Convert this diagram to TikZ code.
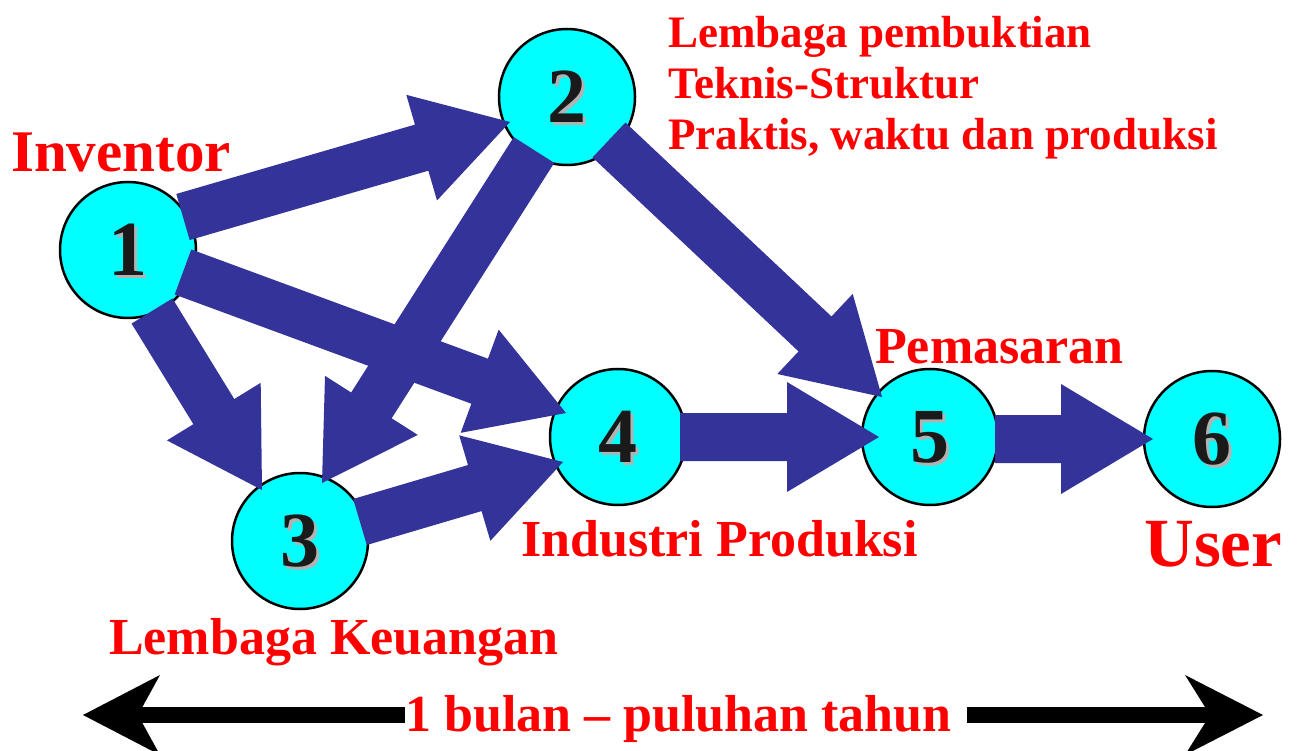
\documentclass[tikz,border=0pt]{standalone}
\usepackage{fontspec}
\setmainfont{Liberation Serif}
\usetikzlibrary{calc}
\definecolor{arrowblue}{RGB}{51,51,153}
\definecolor{nodecyan}{RGB}{0,255,255}
\definecolor{labelred}{RGB}{255,0,0}
\definecolor{numdark}{RGB}{26,26,26}
\definecolor{numshade}{RGB}{178,178,178}
\newcommand\shdigit[1]{\makebox[0pt][l]{\hspace*{3pt}\smash{\raisebox{-3pt}{\textcolor{numshade}{#1}}}}\textcolor{numdark}{#1}}
\newcommand\blockarrow[2]{%
  \coordinate (bab) at ($(#2)!92pt!(#1)$);
  \fill[arrowblue] ($(#1)!24pt!90:(#2)$) -- ($(bab)!24pt!90:(#2)$) -- ($(bab)!55pt!90:(#2)$) -- (#2)
    -- ($(bab)!55pt!-90:(#2)$) -- ($(bab)!24pt!-90:(#2)$) -- ($(#1)!24pt!-90:(#2)$) -- cycle;
}
\tikzset{
  numcircle/.style={circle, draw=black, line width=2.5pt, fill=nodecyan, minimum size=136pt, inner sep=0pt,
    font=\fontsize{78}{80}\selectfont\bfseries},
  redlabel/.style={text=labelred, inner sep=0pt, anchor=base west, font=\fontsize{#1}{#1}\selectfont\bfseries},
}
\begin{document}
\begin{tikzpicture}[x=1pt,y=-1pt]
\useasboundingbox[fill=white] (0,0) rectangle (1307,751);
% circles
\node[numcircle] (c1) at (128,250) {\shdigit{1}};
\node[numcircle] (c2) at (567,97) {\shdigit{2}};
\node[numcircle] (c3) at (300,541) {\shdigit{3}};
\node[numcircle] (c4) at (618,437) {\shdigit{4}};
\node[numcircle] (c5) at (930,437) {\shdigit{5}};
\node[numcircle] (c6) at (1212,439) {\shdigit{6}};
% arrow ends
\coordinate (t12) at ($(c1)+(55,-33)$); \coordinate (h12) at ($(c2)+(-57,25)$);
\coordinate (t14) at ($(c1)+(55,22)$);  \coordinate (h14) at ($(c4)+(-52,-24)$);
\coordinate (t13) at ($(c1)+(24,61)$);  \coordinate (h13) at ($(c3)+(-38,-51)$);
\coordinate (t23) at ($(c2)+(-33,53)$); \coordinate (h23) at ($(c3)+(22,-58)$);
\coordinate (t25) at ($(c2)+(42,43)$);  \coordinate (h25) at ($(c5)+(-48,-40)$);
\coordinate (t34) at ($(c3)+(60,-19)$); \coordinate (h34) at ($(c4)+(-55,25)$);
\coordinate (t45) at ($(c4)+(62,0)$);   \coordinate (h45) at ($(c5)+(-51,0)$);
\coordinate (t56) at ($(c5)+(65,2)$);   \coordinate (h56) at ($(c6)+(-59,0)$);
\blockarrow{t12}{h12}
\blockarrow{t14}{h14}
\blockarrow{t13}{h13}
\blockarrow{t23}{h23}
\blockarrow{t25}{h25}
\blockarrow{t34}{h34}
\blockarrow{t45}{h45}
\blockarrow{t56}{h56}
% labels
\node[redlabel=59] (inv) at (11,172) {Inventor};
\node[redlabel=45] (lp1) at (668,48) {Lembaga pembuktian};
\node[redlabel=45] (lp2) at (668,99) {Teknis-Struktur};
\node[redlabel=45] (lp3) at (668,150) {Praktis, waktu dan produksi};
\node[redlabel=52] (pem) at (875,363) {Pemasaran};
\node[redlabel=52] (ind) at (521,556) {Industri Produksi};
\node[redlabel=69] (usr) at (1144,566) {User};
\node[redlabel=52] (keu) at (109,654) {Lembaga Keuangan};
\node[redlabel=52] (dur) at (405,731) {1 bulan – puluhan tahun};
% time arrow
\coordinate (L) at (83,715);
\coordinate (R) at (1263,715);
\fill[black] (L) -- ++(77,-40) -- ++(-22,40) -- ++(22,40) -- cycle;
\fill[black] ($(L)+(50,-8)$) rectangle ($(dur.west |- L)+(0,8)$);
\fill[black] (R) -- ++(-78,-40) -- ++(25,40) -- ++(-25,40) -- cycle;
\fill[black] ($(dur.east |- R)+(15,-8)$) rectangle ($(R)+(-50,8)$);
\end{tikzpicture}
\end{document}
